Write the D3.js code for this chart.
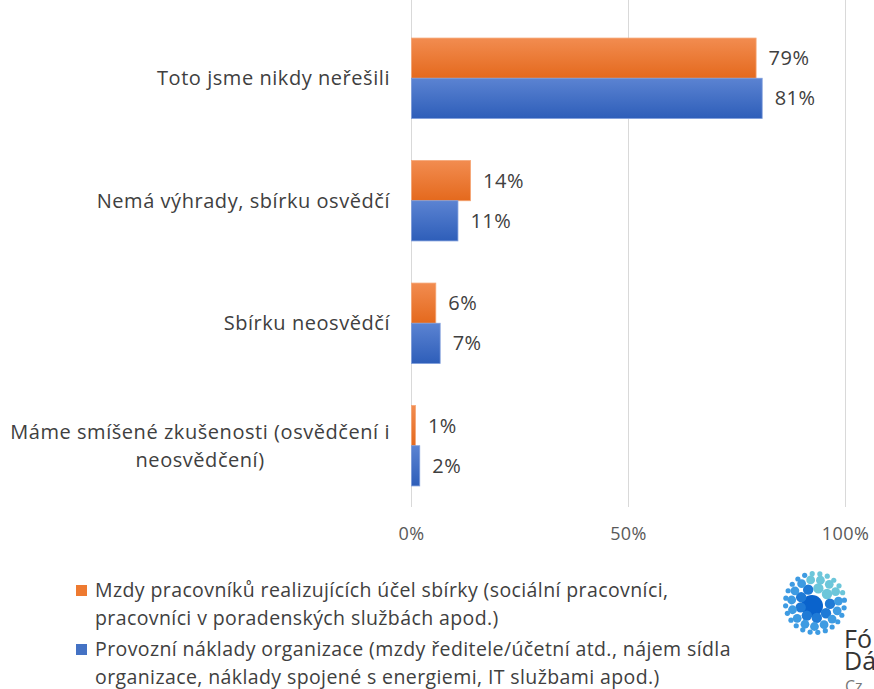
<!DOCTYPE html>
<html>
<head>
<meta charset="utf-8">
<script src="https://cdn.jsdelivr.net/npm/d3@7"></script>
<style>
  body { margin: 0; background: #fff; }
  svg { display: block; font-family: "Open Sans", sans-serif; }
</style>
</head>
<body>
<div id="chart"></div>
<script>
// categories top to bottom
const categories = [
  "Toto jsme nikdy neřešili",
  "Nemá výhrady, sbírku osvědčí",
  "Sbírku neosvědčí",
  "Máme smíšené zkušenosti (osvědčení i neosvědčení)"
];
// "\n" marks where the legend entry breaks in the original
const seriesNames = [
  "Mzdy pracovníků realizujících účel sbírky (sociální pracovníci,\npracovníci v poradenských službách apod.)",
  "Provozní náklady organizace (mzdy ředitele/účetní atd., nájem sídla\norganizace, náklady spojené s energiemi, IT službami apod.)"
];
const wages = [79.4, 13.6, 5.6, 0.9];
const operating = [80.8, 10.7, 6.6, 1.9];
const xTicks = [0, 50, 100];

const width = 874, height = 689;
const margin = { top: 17, right: 29, bottom: 182, left: 411 };

const svg = d3.select("#chart").append("svg")
  .attr("width", width)
  .attr("height", height);

const defs = svg.append("defs");
function grad(id, top, bottom) {
  const g = defs.append("linearGradient").attr("id", id)
    .attr("x1", 0).attr("y1", 0).attr("x2", 0).attr("y2", 1);
  g.append("stop").attr("offset", "0%").attr("stop-color", top);
  g.append("stop").attr("offset", "100%").attr("stop-color", bottom);
}
grad("gOrange", "#F28C50", "#E4691D");
grad("gBlue", "#5B83D2", "#2E5EB9");
const fills = ["url(#gOrange)", "url(#gBlue)"];
const swatch = ["#EE7A30", "#4472C4"];
const edges = ["#F5A574", "#7C9BDA"];

const x = d3.scaleLinear().domain([0, 100]).range([margin.left, width - margin.right]);
const y = d3.scaleBand().domain(categories)
  .range([margin.top, height - margin.bottom]).paddingInner(0.344).paddingOuter(0.172);
const sub = d3.scaleBand().domain([0, 1]).range([0, y.bandwidth()]);

// gridlines
svg.append("g").selectAll("line").data(xTicks).join("line")
  .attr("x1", d => x(d) + 0.5).attr("x2", d => x(d) + 0.5)
  .attr("y1", 0).attr("y2", height - margin.bottom)
  .attr("stroke", "#D9D9D9").attr("stroke-width", 1);

// x axis labels
const xAxis = d3.axisBottom(x).tickValues(xTicks).tickSize(0).tickPadding(0)
  .tickFormat(d => d + "%");
svg.append("g")
  .attr("transform", `translate(0,${height - margin.bottom + 20})`)
  .call(xAxis)
  .call(g => g.select(".domain").remove())
  .call(g => g.selectAll("text").attr("fill", "#595959")
    .attr("font-size", 18).attr("letter-spacing", 0.4)
    .attr("font-family", "Open Sans, sans-serif"));

// bars
const series = [wages, operating];
series.forEach((vals, s) => {
  const g = svg.append("g");
  g.selectAll("rect").data(vals).join("rect")
    .attr("x", x(0) + 0.5)
    .attr("y", (d, i) => y(categories[i]) + sub(s))
    .attr("width", d => x(d) - x(0))
    .attr("height", sub.bandwidth())
    .attr("fill", fills[s])
    .attr("stroke", edges[s]).attr("stroke-width", 0.8);
  g.selectAll("text").data(vals).join("text")
    .attr("x", d => x(d) + 13)
    .attr("y", (d, i) => y(categories[i]) + sub(s) + sub.bandwidth() / 2)
    .attr("dy", "0.35em")
    .attr("font-size", 20)
    .attr("letter-spacing", 0.5)
    .attr("fill", "#404040")
    .text(d => Math.round(d) + "%");
});

// category labels, wrapped and centred like the spreadsheet does it
function wrapLines(textSel, str, maxW) {
  const words = str.split(" ");
  const lines = [];
  let cur = [];
  words.forEach(w => {
    cur.push(w);
    textSel.text(cur.join(" "));
    if (textSel.node().getComputedTextLength() > maxW && cur.length > 1) {
      cur.pop();
      lines.push(cur.join(" "));
      cur = [w];
    }
  });
  lines.push(cur.join(" "));
  textSel.text(null);
  return lines;
}

const labelRight = 390;
categories.forEach(c => {
  const t = svg.append("text")
    .attr("font-size", 20)
    .attr("letter-spacing", 0.55)
    .attr("fill", "#404040");
  const lines = wrapLines(t, c, 385);
  const lh = 28;
  const cy = y(c) + y.bandwidth() / 2;
  let maxW = 0;
  lines.forEach(l => {
    t.text(l);
    maxW = Math.max(maxW, t.node().getComputedTextLength());
  });
  t.text(null);
  const cx = labelRight - maxW / 2;
  lines.forEach((l, i) => {
    t.append("tspan")
      .attr("x", cx)
      .attr("y", cy + (i - (lines.length - 1) / 2) * lh)
      .attr("dy", "0.35em")
      .attr("text-anchor", "middle")
      .text(l);
  });
});

// legend
const legend = svg.append("g");
let ly = 590;
seriesNames.forEach((name, s) => {
  legend.append("rect")
    .attr("x", 76).attr("y", ly - 5)
    .attr("width", 11).attr("height", 11)
    .attr("fill", swatch[s]);
  const t = legend.append("text")
    .attr("font-size", 19.5)
    .attr("letter-spacing", 0.4)
    .attr("fill", "#404040");
  const lines = name.split("\n");
  lines.forEach((l, i) => {
    t.append("tspan")
      .attr("x", 95)
      .attr("y", ly + i * 28)
      .attr("dy", "0.35em")
      .text(l);
  });
  ly += lines.length * 28 + 3;
});

// logo (decoration)
const logo = svg.append("g").attr("transform", "translate(815,603)");
const rings = [
  { d: 0, n: 1, r: 11 },
  { d: 15, n: 9, r: 5.2 },
  { d: 23.5, n: 15, r: 4.4 },
  { d: 29.5, n: 24, r: 2.6 }
];
const dots = [];
rings.forEach(rg => {
  for (let k = 0; k < rg.n; k++) {
    const a = (k / rg.n) * 2 * Math.PI + rg.d * 0.05;
    dots.push({ x: rg.d * Math.cos(a) - (rg.d ? 0 : 3), y: rg.d * Math.sin(a) + (rg.d ? 0 : 3), r: rg.r, a: a, d: rg.d });
  }
});
logo.selectAll("circle").data(dots).join("circle")
  .attr("cx", d => d.x).attr("cy", d => d.y).attr("r", d => d.r)
  .attr("fill", d => {
    if (d.d === 0) return "#0A63CC";
    const deg = (d.a * 180 / Math.PI) % 360;
    if (deg > 250 && deg < 350) return "#6CC6DA";
    return d.d > 20 ? "#3E9BE2" : "#1F7AD6";
  });
svg.append("text").attr("x", 844).attr("y", 648).attr("font-size", 25)
  .attr("fill", "#333").text("Fó");
svg.append("text").attr("x", 844).attr("y", 670).attr("font-size", 25)
  .attr("fill", "#333").text("Dá");
svg.append("text").attr("x", 845).attr("y", 692).attr("font-size", 16)
  .attr("fill", "#777").text("Cz");
</script>
</body>
</html>
